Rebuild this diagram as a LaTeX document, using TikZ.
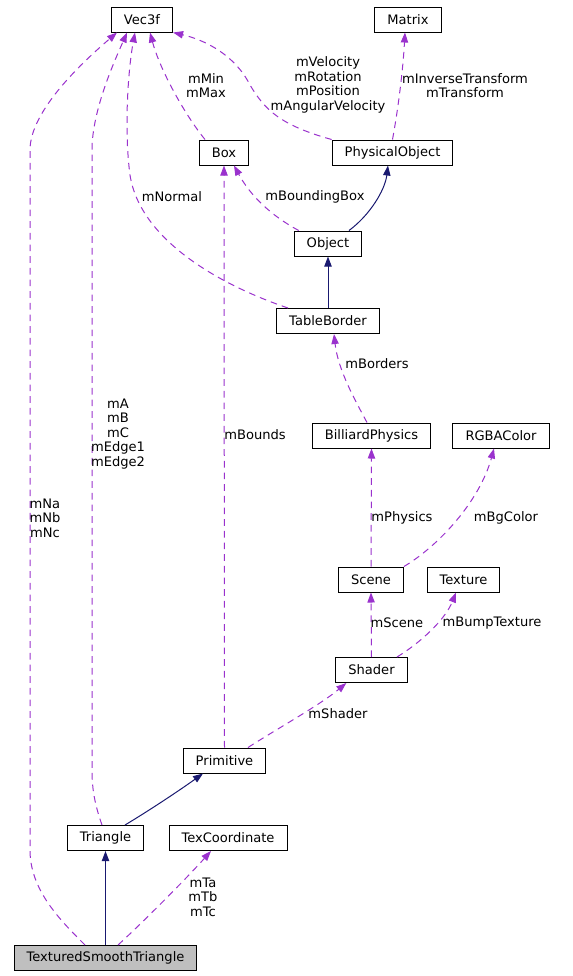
\documentclass[tikz,border=0pt]{standalone}
\usepackage{fontspec}
\setmainfont{DejaVu Sans}
\usepackage{tikz}
\usetikzlibrary{arrows.meta}
\usetikzlibrary{calc}
\usepackage{xcolor}
\definecolor{doxpurple}{HTML}{9A32CD}
\definecolor{doxblue}{HTML}{191970}
\definecolor{doxgray}{HTML}{BFBFBF}
\tikzset{
    classbox/.style={
        draw,
        rectangle,
        fill=white,
        line width=0.75pt,
        minimum height=18.75pt,
        inner xsep=9.4pt,
        inner ysep=0pt,
        font=\fontsize{9.8pt}{10.9pt}\selectfont
    },
    memberlabel/.style={
        inner sep=0pt,
        align=center,
        font=\fontsize{9.8pt}{10.9pt}\selectfont
    },
    uses/.style={
        draw=doxpurple,
        line width=0.75pt,
        dash pattern=on 5pt off 3.75pt,
        -{Triangle[length=7.5pt, width=5.5pt]}
    },
    inherits/.style={
        draw=doxblue,
        line width=0.75pt,
        -{Triangle[length=7.5pt, width=5.5pt]}
    }
}

\begin{document}
\begin{tikzpicture}[x=0.75pt, y=-0.75pt]
    \useasboundingbox (0,0) rectangle (573,976);
    % Classes
    \node[classbox] (vec) at (142,19.5) {Vec3f};
    \node[classbox] (matrix) at (408,19.5) {Matrix};
    \node[classbox] (box) at (224,152.5) {Box};
    \node[classbox] (phys) at (392.5,152.5) {PhysicalObject};
    \node[classbox] (object) at (328,243.5) {Object};
    \node[classbox] (border) at (328,321) {TableBorder};
    \node[classbox] (billiard) at (371.5,435.5) {BilliardPhysics};
    \node[classbox] (rgba) at (501,435.5) {RGBAColor};
    \node[classbox] (scene) at (371,579.5) {Scene};
    \node[classbox] (texture) at (463.5,579.5) {Texture};
    \node[classbox] (shader) at (371.5,670) {Shader};
    \node[classbox] (primitive) at (224.5,760.5) {Primitive};
    \node[classbox] (triangle) at (105.5,838) {Triangle};
    \node[classbox] (texcoord) at (228,838) {TexCoordinate};
    \node[classbox, fill=doxgray] (tst) at (105.5,958) {TexturedSmoothTriangle};

    % Members
    \draw[uses] ($(tst.north)+(-20.5,0)$) .. controls (60,920) and (30,890) .. (30,850)
        -- (30,150) .. controls (30,110) and (85,60) .. ($(vec.south)+(-25,0)$);
    \draw[uses] ($(triangle.north)+(-3.5,0)$) .. controls (95,805) and (92,790) .. (92,770)
        -- (92,150) .. controls (92,110) and (115,60) .. ($(vec.south)+(-15,0)$);
    \draw[uses] ($(border.north)+(-40,0)$) .. controls (220,285) and (140,240) .. (130,175)
        .. controls (124,130) and (128,70) .. ($(vec.south)+(-7,0)$);
    \draw[uses] ($(box.north)+(-19,0)$) .. controls (185,115) and (160,70) .. ($(vec.south)+(8,0)$);
    \draw[uses] (phys.north west) .. controls (280,125) and (265,110) .. (250,85)
        .. controls (235,55) and (205,40) .. (vec.south east);
    \draw[uses] (phys.north) .. controls (398,110) and (403,70) .. ($(matrix.south)+(-3,0)$);
    \draw[uses] ($(object.north west)+(5,0)$) .. controls (270,215) and (250,195) .. ($(box.south)+(10,0)$);
    \draw[uses] (primitive.north) -- (box.south);
    \draw[uses] ($(billiard.north)+(-4.5,0)$) .. controls (355,400) and (338,370) .. ($(border.south)+(6,0)$);
    \draw[uses] (scene.north) -- (billiard.south);
    \draw[uses] (scene.north east) .. controls (440,545) and (480,500) .. ($(rgba.south)+(-7,0)$);
    \draw[uses] (shader.north) -- (scene.south);
    \draw[uses] ($(shader.north)+(25.5,0)$) .. controls (420,643) and (445,620) .. ($(texture.south)+(-7.5,0)$);
    \draw[uses] ($(primitive.north)+(23.5,0)$) .. controls (275,730) and (320,705) .. ($(shader.south west)+(11,0)$);
    \draw[uses] ($(tst.north)+(12.5,0)$) .. controls (140,925) and (185,880) .. ($(texcoord.south)+(-17,0)$);

    % Bases
    \draw[inherits] ($(object.north)+(21,0)$) .. controls (370,215) and (385,190) .. ($(phys.south)+(-4.5,0)$);
    \draw[inherits] (border.north) -- (object.south);
    \draw[inherits] ($(triangle.north)+(19.5,0)$) .. controls (150,810) and (180,790) .. ($(primitive.south)+(-21.5,0)$);
    \draw[inherits] (tst.north) -- (triangle.south);

    % Labels
    \node[memberlabel] (lnabc) at (45,518) {mNa\\mNb\\mNc};
    \node[memberlabel] (labc) at (118,434) {mA\\mB\\mC\\mEdge1\\mEdge2};
    \node[memberlabel] (lnormal) at (172,197) {mNormal};
    \node[memberlabel] (lminmax) at (206,85.5) {mMin\\mMax};
    \node[memberlabel] (lmotion) at (328,85) {mVelocity\\mRotation\\mPosition\\mAngularVelocity};
    \node[memberlabel] (ltransform) at (465,85.5) {mInverseTransform\\mTransform};
    \node[memberlabel] (lbbox) at (315,197) {mBoundingBox};
    \node[memberlabel] (lbounds) at (255,435) {mBounds};
    \node[memberlabel] (lborders) at (377,364) {mBorders};
    \node[memberlabel] (lphysics) at (402,518) {mPhysics};
    \node[memberlabel] (lbgcolor) at (506,518) {mBgColor};
    \node[memberlabel] (lscene) at (397,623) {mScene};
    \node[memberlabel] (lbump) at (492,623) {mBumpTexture};
    \node[memberlabel] (lshader) at (338,714) {mShader};
    \node[memberlabel] (ltabc) at (203,897) {mTa\\mTb\\mTc};
\end{tikzpicture}
\end{document}
